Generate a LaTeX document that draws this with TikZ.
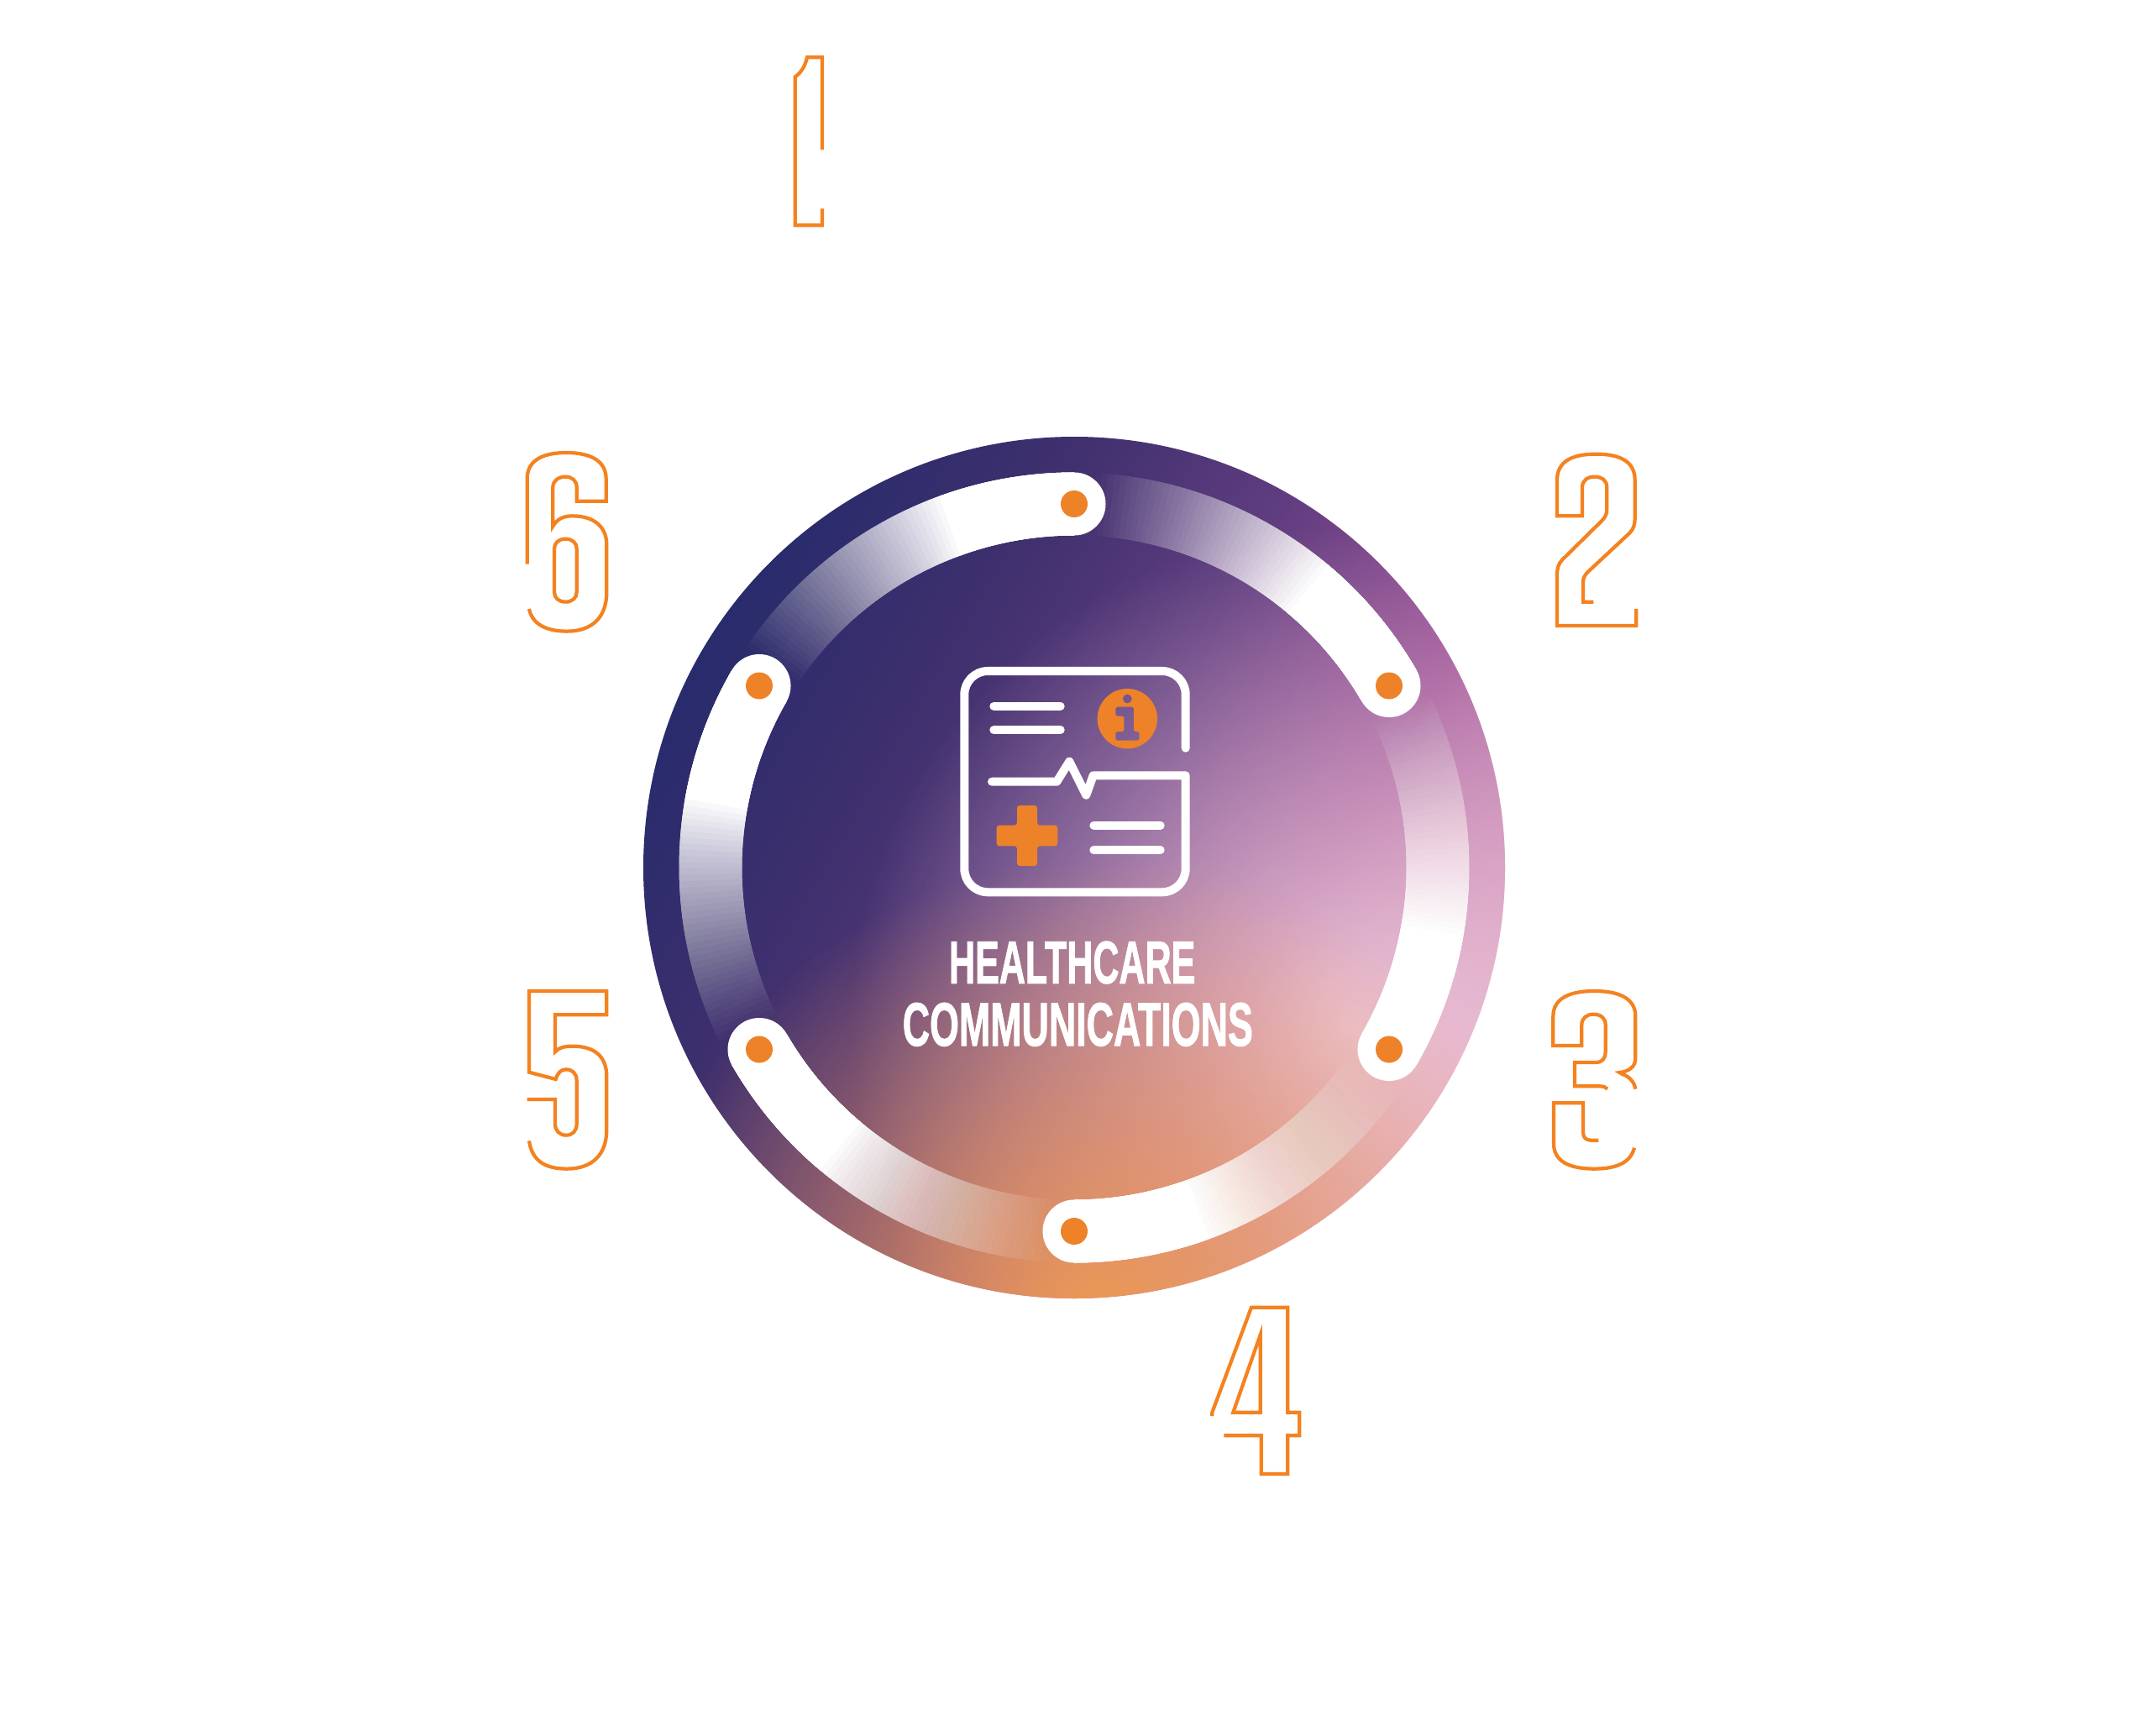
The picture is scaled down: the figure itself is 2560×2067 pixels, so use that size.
\documentclass[tikz,border=0pt]{standalone}
\usepackage{fontspec}
\setmainfont{Liberation Sans}
\newfontfamily\titlefont[BoldFeatures={FakeBold=1.6}]{Liberation Sans}
\usetikzlibrary{fadings}
\definecolor{numor}{HTML}{F4821F}
\definecolor{dotor}{HTML}{EE8229}
\definecolor{bgA}{HTML}{D08AB8}
\definecolor{bgB}{HTML}{9A4F95}
\definecolor{bgC}{HTML}{603D80}
\definecolor{bgD}{HTML}{40306E}
\definecolor{bgE}{HTML}{282B6C}
\definecolor{pinkglow}{HTML}{F2CEDC}
\definecolor{orglow}{HTML}{EE9A52}
\pgfdeclareverticalshading{bgshade}{100bp}{color(0bp)=(bgA); color(25bp)=(bgA); color(37bp)=(bgB); color(50bp)=(bgC); color(62bp)=(bgD); color(75bp)=(bgE); color(100bp)=(bgE)}
\tikzfading[name=glowfade, inner color=transparent!0, outer color=transparent!100]
\tikzset{
  numline/.style={draw=numor, line width=1.2pt, line cap=butt, line join=miter},
  iconline/.style={draw=white, line width=2.85pt, line cap=round, line join=round},
  capdot/.style={circle, fill=white, inner sep=0pt, minimum size=21.34pt},
  orangedot/.style={circle, fill=dotor, inner sep=0pt, minimum size=9.1pt},
  titletext/.style={anchor=base, inner sep=0pt, text=white, font=\titlefont\bfseries}
}
\begin{document}
\begin{tikzpicture}[x=0.01cm,y=-0.01cm]
\useasboundingbox (0,0) rectangle (2560,2067);
\fill[white] (0,0) rectangle (2560,2067);
\coordinate (C) at (1279,1033);
% background disc
\shade[shading=bgshade, shading angle=60] (C) circle (513);
\begin{scope}
  \clip (C) circle (513);
  \fill[pinkglow, path fading=glowfade, fill opacity=0.9] (1612,1225) circle (600);
  \fill[orglow, path fading=glowfade] (1310,1580) circle (560);
\end{scope}
% band segments fading
\begin{scope}[shift={(C)}, yscale=-1]
  \foreach \s in {90,150,...,390} {
    \foreach \j in {1,...,40} {
      \pgfmathsetmacro{\op}{1/(41-\j)}
      \pgfmathsetmacro{\te}{\s+20+36*(40-\j)/39}
      \fill[white, fill opacity=\op] (\s:395.5) arc[start angle=\s, end angle=\te, radius=395.5] -- (\te:470.5) arc[start angle=\te, end angle=\s, radius=470.5] -- cycle;
    }
  }
  \foreach \a [count=\k] in {90,30,-30,-90,-150,150} {
    \node[capdot] (cap\k) at (\a:433) {};
    \node[orangedot] (dot\k) at (\a:433) {};
  }
\end{scope}
% icon
\draw[iconline] (1411.7,890.7) -- (1411.7,827) arc[start angle=0, end angle=-90, radius=28] -- (1176.3,799) arc[start angle=-90, end angle=-180, radius=28] -- (1148.3,1034.3) arc[start angle=180, end angle=90, radius=28] -- (1383.7,1062.3) arc[start angle=90, end angle=0, radius=28] -- (1411.7,923.3) -- (1301.7,923.3) -- (1293.3,946.7) -- (1273.3,906.7) -- (1258.3,930.7) -- (1181,930.7);
\draw[iconline] (1183.3,840.7) -- (1262.7,840.7);
\draw[iconline] (1183.3,869.3) -- (1262.7,869.3);
\draw[iconline] (1302.3,982.7) -- (1381.7,982.7);
\draw[iconline] (1302.3,1012.3) -- (1381.7,1012.3);
\fill[dotor, even odd rule] (1342.3,855.7) circle (35.7)
  (1342.3,832) circle (5.5)
  [rounded corners=0.5pt] (1328.3,841.7) -- (1350,841.7) -- (1350,871) -- (1356.7,871) -- (1356.7,881.7) -- (1328.3,881.7) -- (1328.3,871) -- (1338.3,871) -- (1338.3,852.7) -- (1328.3,852.7) -- cycle;
\fill[dotor, rounded corners=0.9pt] (1211,959) -- (1235,959) -- (1235,982.7) -- (1259.3,982.7) -- (1259.3,1007.3) -- (1235,1007.3) -- (1235,1031) -- (1211,1031) -- (1211,1007.3) -- (1186.7,1007.3) -- (1186.7,982.7) -- (1211,982.7) -- cycle;
% title
\node[titletext] (t1) at (1276.7,1170.7) {\resizebox{83.4pt}{14.2pt}{HEALTHCARE}};
\node[titletext] (t2) at (1283.3,1245) {\resizebox{118.6pt}{14.5pt}{COMMUNICATIONS}};
% number 1
\begin{scope}[shift={(900,40)}, scale=1/3]
  \draw[numline] (237,415) -- (237,85) -- (183,85) .. controls (175,120) and (160,140) .. (140,155) -- (140,685) -- (237,685) -- (237,625);
\end{scope}
% number 2
\begin{scope}[shift={(1840,525)}, scale=1/3]
  \draw[numline] (172,575) -- (135,575) -- (135,505) .. controls (135,490) and (140,480) .. (152,468) -- (300,330) .. controls (315,315) and (320,300) .. (320,275) -- (320,140) .. controls (320,75) and (270,47) .. (181,47) .. controls (92,47) and (42,75) .. (42,140) -- (42,268) -- (132,268) -- (132,165) .. controls (132,142) and (150,128) .. (176,128) .. controls (202,128) and (220,142) .. (220,165) -- (220,240) .. controls (220,262) and (215,272) .. (200,287) -- (60,425) .. controls (46,440) and (42,455) .. (42,480) -- (42,660) -- (325,660) -- (325,600);
\end{scope}
% number 3
\begin{scope}[shift={(1840,1165)}, scale=1/3]
  \draw[numline] (222,395) .. controls (215,388) and (208,385) .. (195,385) -- (105,385) -- (105,300) -- (180,300) .. controls (205,300) and (215,285) .. (215,260) -- (215,165) .. controls (215,142) and (198,128) .. (172,128) .. controls (148,128) and (130,142) .. (130,165) -- (130,240) -- (28,240) -- (28,135) .. controls (28,75) and (80,45) .. (175,45) .. controls (270,45) and (322,75) .. (322,135) -- (322,285) .. controls (322,315) and (300,332) .. (265,336) -- (275,342) .. controls (300,350) and (318,370) .. (322,395);
  \draw[numline] (318,605) .. controls (305,655) and (260,680) .. (175,680) .. controls (80,680) and (30,650) .. (30,590) -- (30,445) -- (135,445) -- (135,550) .. controls (135,568) and (145,578) .. (162,578) -- (190,578);
\end{scope}
% number 4
\begin{scope}[shift={(1430,1540)}, scale=1/3]
  \draw[numline] (40,438) -- (40,425) -- (180,50) -- (310,50) -- (310,425) -- (352,425) -- (352,508) -- (310,508) -- (310,645) -- (215,645) -- (215,508) -- (82,508);
  \draw[numline] (212,148) -- (212,425) -- (115,425) -- cycle;
\end{scope}
% number 5
\begin{scope}[shift={(615,1165)}, scale=1/3]
  \draw[numline] (38,432) -- (138,432) -- (138,520) .. controls (138,545) and (155,560) .. (177,560) .. controls (200,560) and (215,545) .. (215,520) -- (215,365) .. controls (215,340) and (200,325) .. (177,325) .. controls (160,325) and (148,335) .. (140,360) -- (45,335) -- (45,45) -- (322,45) -- (322,130) -- (138,130) -- (138,262) .. controls (150,248) and (170,242) .. (200,242) .. controls (280,242) and (322,280) .. (322,350) -- (322,540) .. controls (322,630) and (270,680) .. (180,680) .. controls (100,680) and (55,650) .. (45,580);
\end{scope}
% number 6
\begin{scope}[shift={(615,525)}, scale=1/3]
  \draw[numline] (38,440) -- (38,135) .. controls (38,75) and (85,42) .. (178,42) .. controls (270,42) and (320,75) .. (320,135) -- (320,215) -- (215,215) -- (215,165) .. controls (215,142) and (198,128) .. (175,128) .. controls (150,128) and (130,142) .. (130,165) -- (130,305) .. controls (145,280) and (165,268) .. (200,268) .. controls (280,268) and (322,310) .. (322,370) -- (322,540) .. controls (322,630) and (270,680) .. (180,680) .. controls (100,680) and (55,650) .. (45,600);
  \draw[numline] (135,385) .. controls (135,365) and (150,350) .. (175,350) .. controls (200,350) and (215,365) .. (215,385) -- (215,540) .. controls (215,560) and (200,575) .. (175,575) .. controls (150,575) and (135,560) .. (135,540) -- cycle;
\end{scope}
\end{tikzpicture}
\end{document}
